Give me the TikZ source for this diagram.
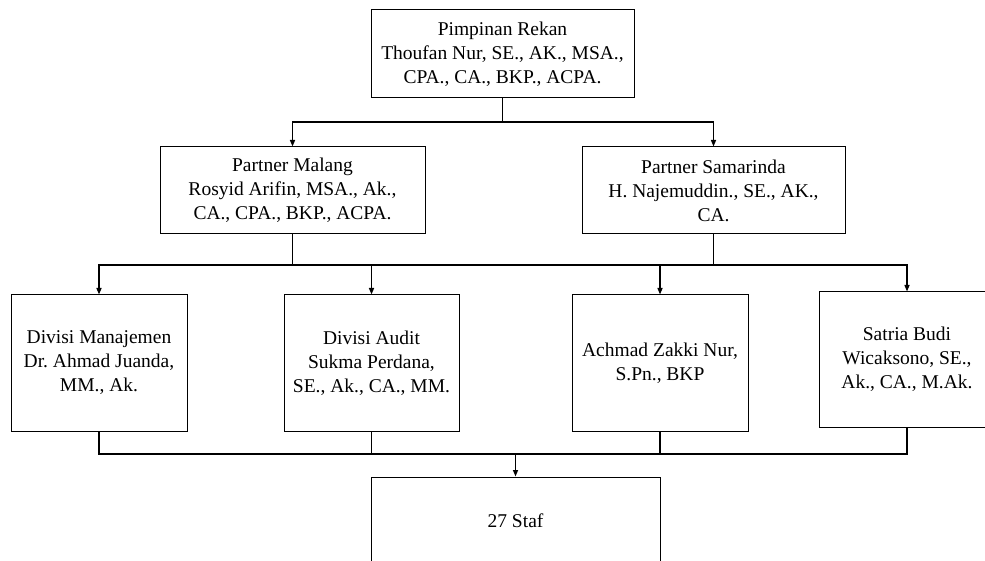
\documentclass[tikz,border=0pt]{standalone}
\usepackage{fontspec}
\setmainfont{Liberation Serif}
\usetikzlibrary{arrows.meta, positioning, calc}
\frenchspacing

\begin{document}
\begin{tikzpicture}[x=1pt, y=-1pt,
  orgbox/.style={draw=black, line width=1pt, fill=white, align=center, inner sep=2pt, font=\fontsize{19.5}{24}\selectfont},
  link/.style={line width=1.4pt},
  arrowlink/.style={link, -{Triangle[length=6.5pt, width=5pt]}}]
  \useasboundingbox (0,0) rectangle (985,561);
  \clip (0,0) rectangle (985,561);

  % Top level
  \node[orgbox, minimum width=263pt, minimum height=88pt] (rekan) at (502.5,54) {Pimpinan Rekan\\Thoufan Nur, SE., AK., MSA.,\\CPA., CA., BKP., ACPA.};

  % Partners
  \node[orgbox, minimum width=265pt, minimum height=87pt] (malang) at (292.5,190.5) {Partner Malang\\Rosyid Arifin, MSA., Ak.,\\CA., CPA., BKP., ACPA.};
  \node[orgbox, minimum width=263pt, minimum height=87pt] (samarinda) at (713.5,190.5) {Partner Samarinda\\H. Najemuddin., SE., AK.,\\CA.};

  % Divisions
  \node[orgbox, minimum width=176pt, minimum height=136pt] (manajemen) at (99,363) {Divisi Manajemen\\Dr. Ahmad Juanda,\\MM., Ak.};
  \node[orgbox, minimum width=175pt, minimum height=136pt] (audit) at (371.5,363) {Divisi Audit\\Sukma Perdana,\\SE., Ak., CA., MM.};
  \node[orgbox, minimum width=176pt, minimum height=136pt] (zakki) at (660,363) {Achmad Zakki Nur,\\S.Pn., BKP};
  \node[orgbox, minimum width=175pt, minimum height=135pt] (satria) at (907,359.5) {Satria Budi\\Wicaksono, SE.,\\Ak., CA., M.Ak.};

  % Staff
  \node[orgbox, minimum width=289pt, minimum height=88pt] (staf) at (515.5,521) {27 Staf};

  % Junctions
  \coordinate (j1) at (rekan.south |- 0,122);
  \coordinate (j2) at (malang.south |- 0,265);
  \coordinate (j3) at (samarinda.south |- 0,265);
  \coordinate (j4) at (staf.north |- 0,454);

  % Connectors
  \draw[link] (rekan.south) -- (j1);
  \draw[arrowlink] (j1) -| (malang.north);
  \draw[arrowlink] (j1) -| (samarinda.north);
  \draw[link] (malang.south) -- (j2);
  \draw[link] (samarinda.south) -- (j3);
  \draw[link] (j2) -- (j3);
  \draw[arrowlink] (j2) -| (manajemen.north);
  \draw[arrowlink] (j2) -| (audit.north);
  \draw[arrowlink] (j3) -| (zakki.north);
  \draw[arrowlink] (j3) -| (satria.north);
  \draw[link] (manajemen.south) |- (j4);
  \draw[link] (audit.south) |- (j4);
  \draw[link] (zakki.south) |- (j4);
  \draw[link] (satria.south) |- (j4);
  \draw[arrowlink] (j4) -- (staf.north);
\end{tikzpicture}
\end{document}
